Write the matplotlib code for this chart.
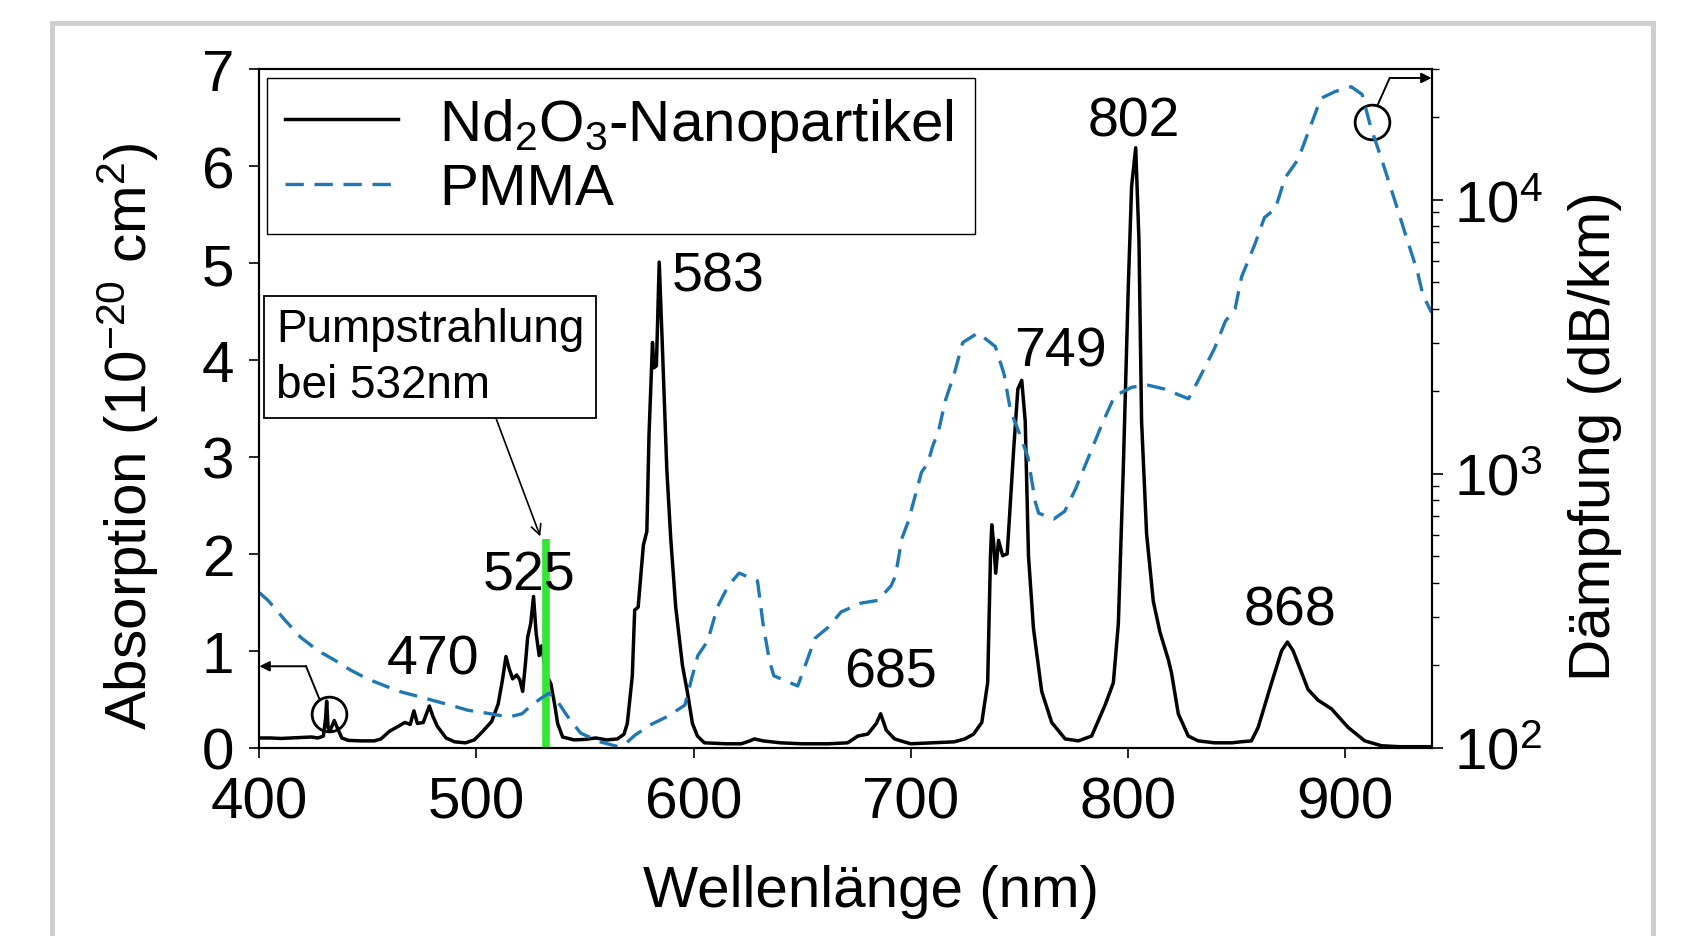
import matplotlib
matplotlib.use("Agg")
import matplotlib.pyplot as plt
from matplotlib.patches import Rectangle
from matplotlib.lines import Line2D

plt.rcParams['font.family'] = ['Liberation Sans', 'DejaVu Sans']
plt.rcParams['mathtext.fontset'] = 'custom'
plt.rcParams['mathtext.rm'] = 'Liberation Sans'
plt.rcParams['mathtext.it'] = 'Liberation Sans:italic'
plt.rcParams['mathtext.bf'] = 'Liberation Sans:bold'

# Nd2O3 absorption cross section (10^-20 cm^2)
nd_wl = [400, 405, 410, 415, 420, 424, 427, 429.5, 430.5, 431, 431.7, 432.5, 434.5, 436, 438,
         441, 447, 453, 456, 460, 464, 467, 469.5, 471.2, 472.8, 475.5, 478.3, 480, 482, 486,
         490, 495, 499, 503, 507, 510, 512, 513.6, 515, 516.7, 518.5, 520, 521.3, 522.5, 523.6,
         525, 526.3, 527.5, 528.9, 530, 531, 532, 534.3, 536, 537.4, 539.7, 545, 550, 555, 560,
         565, 568, 569.5, 571.8, 572.9, 574.5, 576.9, 578.5, 579.5, 581.1, 581.8, 582.9, 584.2,
         585.7, 587.7, 589.5, 591.8, 594.9, 597.2, 599.5, 601.8, 605, 615, 622, 626, 628, 632,
         640, 650, 662, 671, 675.7, 680.3, 684.2, 686.2, 688.8, 692.6, 700, 710, 720, 725, 729,
         732.8, 735.5, 736.8, 737.4, 738.3, 739.2, 740.5, 742.4, 744.5, 747.4, 749.4, 751.2,
         752.8, 754.3, 756.6, 760.4, 765, 771.2, 777.3, 783.4, 789.6, 793.4, 795.7, 798, 800.3,
         801.8, 803.7, 805.2, 806.4, 808.7, 811.8, 814.9, 818.7, 820.2, 823.3, 827.9, 832.5,
         840, 848, 852, 857, 860.1, 866.3, 870.9, 873.6, 876.2, 883.1, 887.7, 893.9, 901.5,
         909.2, 916.9, 925, 940]
nd_abs = [0.10, 0.10, 0.095, 0.10, 0.105, 0.11, 0.10, 0.12, 0.30, 0.48, 0.20, 0.17, 0.28, 0.20, 0.10,
          0.075, 0.07, 0.07, 0.09, 0.17, 0.22, 0.26, 0.24, 0.38, 0.25, 0.26, 0.43, 0.32, 0.22, 0.10,
          0.06, 0.05, 0.08, 0.17, 0.27, 0.45, 0.70, 0.94, 0.82, 0.71, 0.75, 0.70, 0.58, 0.85, 1.14,
          1.28, 1.56, 1.18, 0.95, 1.05, 0.92, 0.76, 0.66, 0.45, 0.25, 0.11, 0.08, 0.085, 0.10, 0.08,
          0.09, 0.14, 0.25, 0.74, 1.42, 1.45, 2.09, 2.23, 3.23, 4.18, 3.92, 3.94, 5.01,
          4.11, 2.87, 2.16, 1.45, 0.85, 0.57, 0.25, 0.12, 0.05, 0.04, 0.04, 0.07, 0.09, 0.07,
          0.05, 0.04, 0.04, 0.05, 0.12, 0.14, 0.25, 0.35, 0.18, 0.09, 0.04, 0.05, 0.06, 0.09, 0.14,
          0.26, 0.67, 1.98, 2.30, 2.10, 1.80, 2.14, 1.98, 2.00, 3.05, 3.70, 3.79,
          3.37, 1.98, 1.23, 0.58, 0.26, 0.09, 0.07, 0.12, 0.44, 0.67, 1.28, 2.90, 4.77,
          5.79, 6.19, 5.23, 3.37, 2.21, 1.51, 1.19, 0.91, 0.77, 0.35, 0.12, 0.07,
          0.05, 0.05, 0.06, 0.07, 0.21, 0.67, 1.00, 1.09, 1.00, 0.60, 0.49, 0.40, 0.21,
          0.07, 0.02, 0.01, 0.01]

# PMMA attenuation (dB/km)
pmma_wl = [400, 404, 412, 419, 427, 435, 442, 450, 458, 465, 473, 481, 488, 496, 504, 511, 516,
           521, 525, 530, 533.5, 537.5, 542, 548, 557, 565, 569, 573, 580, 588, 596, 599, 602,
           606.5, 611, 616, 621, 629.5, 632, 635, 637, 648, 651, 656, 662, 668, 677, 685, 691,
           693, 696, 699, 702, 705, 708, 710, 713, 716, 720, 724, 731, 739, 743, 746, 750, 754,
           757.5, 759, 766, 771, 776, 782, 788, 794, 802, 809.5, 817, 828, 832.5, 840, 845,
           849.5, 852.5, 858.5, 863, 868, 872.5, 878.5, 884, 889, 895.5, 903, 908, 912, 917,
           923, 927.5, 933.5, 936, 940]
pmma_db = [368, 345, 291, 253, 226, 208, 192, 178, 168, 160, 154, 148, 143, 137, 134, 131, 130,
           133, 142, 152, 158, 147, 130, 113, 105, 101, 104, 111, 121, 130, 143, 177, 217,
           245, 326, 390, 434, 406, 284, 207, 183, 168, 195, 251, 275, 313, 337, 345, 390,
           423, 581, 673, 825, 1012, 1097, 1250, 1448, 1849, 2304, 3014, 3269, 2917, 2322, 1704,
           1413, 1152, 786, 718, 684, 730, 881, 1152, 1508, 1925, 2072, 2106, 2039, 1879, 2193,
           2870, 3606, 4009, 5246, 6862, 8623, 9279, 12040, 14060, 18400, 23490, 24870, 25900,
           24270, 18400, 14060, 9984, 7691, 5464, 4494, 3880]

# peak labels (nm) and where they sit
peak_names = ['470', '525', '583', '685', '749', '802', '868']
peak_x = [479.8, 524.3, 611.4, 690.6, 769.2, 802.9, 874.7]
peak_y = [0.91, 1.78, 4.86, 0.78, 4.09, 6.46, 1.42]

pump_wl = 532
pump_top = 2.15

# circled features and their axis pointers
circle_x = [432.1, 912.4]
circle_y = [0.344, 6.46]
left_ptr_x = [427.6, 421.5]
left_ptr_y = [0.505, 0.84]
right_ptr_x = [915.3, 920.7]
right_ptr_y = [6.64, 6.91]

fig = plt.figure(figsize=(16.94, 9.37), dpi=100)
ax = fig.add_axes([0.1531, 0.201, 0.692, 0.724])
ax2 = ax.twinx()

fig.add_artist(Rectangle((0.0307, -0.05), 0.9451, 1.0244, transform=fig.transFigure,
                         fill=False, ec='#cfcfcf', lw=3.6, clip_on=False))

ax.plot(nd_wl, nd_abs, color='black', lw=2.5)
ax.vlines(pump_wl, 0, pump_top, color='#33e633', lw=5.5, zorder=3)
ax2.plot(pmma_wl, pmma_db, color='#1f77b4', lw=2.4, dashes=(5.5, 3.2))

for name, px, py in zip(peak_names, peak_x, peak_y):
    ax.text(px, py, name, fontsize=40, ha='center', va='center')

ax.plot(circle_x, circle_y, 'o', ms=25, mfc='none', mec='black', mew=2.0)
ax.plot(left_ptr_x, left_ptr_y, color='black', lw=1.4)
ax.annotate('', xy=(400, left_ptr_y[-1]), xytext=(left_ptr_x[-1], left_ptr_y[-1]),
            arrowprops=dict(arrowstyle='-|>', color='black', lw=1.4, mutation_scale=15,
                            shrinkA=0, shrinkB=0), annotation_clip=False)
ax.plot(right_ptr_x, right_ptr_y, color='black', lw=1.4)
ax.annotate('', xy=(940, right_ptr_y[-1]), xytext=(right_ptr_x[-1], right_ptr_y[-1]),
            arrowprops=dict(arrowstyle='-|>', color='black', lw=1.4, mutation_scale=15,
                            shrinkA=0, shrinkB=0), annotation_clip=False)

ax.annotate('Pumpstrahlung\nbei 532nm', xy=(529.4, 2.18), xycoords='data',
            xytext=(0.1456, 0.576), textcoords='axes fraction',
            fontsize=33, ha='center', va='center', multialignment='left', linespacing=1.35,
            bbox=dict(boxstyle='square,pad=0.25', fc='white', ec='black', lw=1.3),
            arrowprops=dict(arrowstyle='->', color='black', lw=1.2, mutation_scale=18,
                            relpos=(0.70, 0.0), shrinkA=0, shrinkB=0))

ax.set_xlim(400, 940)
ax.set_ylim(0, 7)
ax.set_xticks([400, 500, 600, 700, 800, 900])
ax.set_yticks(range(8))
ax2.set_yscale('log')
ax2.set_ylim(100, 3e4)

ax.tick_params(direction='out', length=7, width=1.2, labelsize=42)
ax.tick_params(axis='x', pad=13)
ax.tick_params(axis='y', pad=11)
ax2.tick_params(which='major', direction='out', length=8, width=1.2, labelsize=42, pad=8)
ax2.tick_params(which='minor', direction='out', length=5, width=1.0)
for a in (ax, ax2):
    for s in a.spines.values():
        s.set_linewidth(1.5)

ax.set_xlabel('Wellenlänge (nm)', fontsize=42, va='center')
ax.xaxis.set_label_coords(0.5217, -0.212)
ax.set_ylabel(r'Absorption (10$^{-20}$ cm$^2$)', fontsize=42, va='center')
ax.yaxis.set_label_coords(-0.112, 0.46)
ax2.set_ylabel('Dämpfung (dB/km)', fontsize=42, va='center')
ax2.yaxis.set_label_coords(1.1395, 0.46)

handles = [Line2D([], [], color='black', lw=2.5),
           Line2D([], [], color='#1f77b4', lw=2.4, dashes=(5.5, 3.2))]
leg = ax2.legend(handles, [r'Nd$_2$O$_3$-Nanopartikel ', 'PMMA'], loc='upper left',
                 bbox_to_anchor=(0.0066, 0.987), borderaxespad=0, fontsize=42,
                 handlelength=1.95, handletextpad=0.7, labelspacing=0.15, borderpad=0.3,
                 fancybox=False, framealpha=1, edgecolor='black')
leg.get_frame().set_linewidth(1.0)

fig.savefig('out.png', dpi=100, facecolor='white')
